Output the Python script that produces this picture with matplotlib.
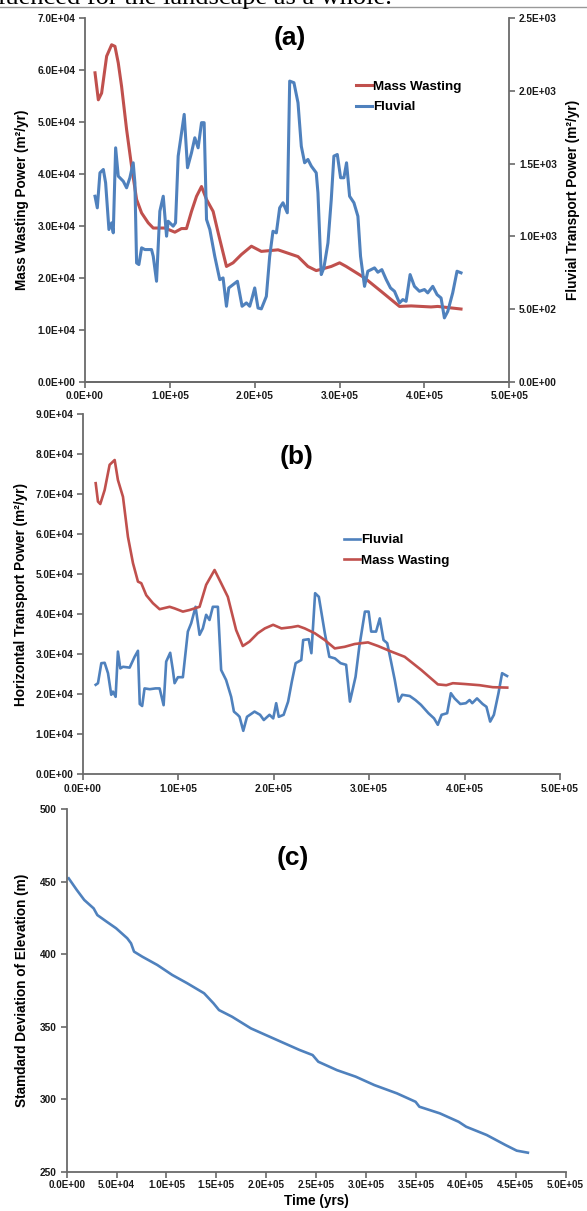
import numpy as np
import matplotlib
matplotlib.use("Agg")
import matplotlib.pyplot as plt
from matplotlib.ticker import FuncFormatter, MultipleLocator

plt.rcParams['font.family'] = ['Liberation Sans', 'DejaVu Sans']
plt.rcParams['font.weight'] = 'bold'
plt.rcParams['axes.labelweight'] = 'bold'

RED = '#c0504d'
BLUE = '#4f81bd'
AXC = '#6a6a6a'

# panel (a): time in kyr, mass wasting in 1e4 m2/yr, fluvial in m2/yr
t_mw_a = [11.8, 15.7, 19.6, 25.5, 31.4, 35.3, 39.2, 43.1, 49.0, 54.9,
          60.8, 66.7, 74.5, 80.4, 94.1, 105.9, 113.7, 119.6, 125.5, 131.4,
          137.3, 143.2, 151.0, 156.9, 166.7, 174.5, 184.3, 196.1, 207.8, 227.5,
          251.0, 262.7, 272.5, 290.2, 300.0, 307.8, 329.4, 349.0, 370.6, 384.3,
          407.8, 415.7, 443.1]
mw_a = [5.95, 5.43, 5.56, 6.27, 6.49, 6.46, 6.14, 5.69, 4.86, 4.15,
        3.51, 3.25, 3.06, 2.96, 2.96, 2.88, 2.95, 2.95, 3.28, 3.57,
        3.76, 3.51, 3.28, 2.87, 2.22, 2.29, 2.45, 2.61, 2.51, 2.54,
        2.41, 2.22, 2.14, 2.22, 2.29, 2.22, 2.00, 1.74, 1.45, 1.46,
        1.44, 1.45, 1.40]

t_fl_a = [11.8, 14.5, 17.6, 21.6, 24.3, 28.2, 31.4, 33.3, 36.1, 39.2,
          45.1, 49.0, 52.9, 56.8, 58.8, 60.8, 63.5, 66.7, 70.6, 78.4,
          80.4, 84.3, 88.2, 92.2, 96.1, 98.0, 103.9, 106.7, 109.8, 116.9,
          120.8, 125.5, 129.4, 133.3, 137.3, 140.4, 143.2, 147.1, 152.9, 158.8,
          162.7, 166.7, 169.4, 174.5, 179.6, 185.1, 190.2, 194.1, 196.9, 200.0,
          203.9, 207.8, 213.7, 217.6, 221.5, 225.5, 229.4, 233.3, 238.4, 241.2,
          246.2, 251.0, 254.9, 258.8, 262.7, 266.7, 272.5, 274.5, 278.4, 281.5,
          286.3, 290.2, 293.3, 297.3, 301.2, 305.1, 308.2, 311.8, 316.9, 321.6,
          324.7, 329.4, 333.3, 341.2, 345.1, 349.8, 355.0, 360.0, 364.7, 370.6,
          374.5, 378.4, 383.1, 388.2, 394.1, 400.0, 403.9, 409.8, 414.9, 419.6,
          423.5, 427.5, 433.3, 438.4, 443.1]
fl_a = [1276, 1196, 1437, 1460, 1368, 1047, 1093, 1024, 1609, 1414,
        1379, 1334, 1403, 1506, 1368, 817, 806, 921, 909, 909,
        863, 691, 1173, 1276, 1001, 1104, 1070, 1093, 1552, 1839,
        1472, 1575, 1678, 1609, 1782, 1782, 1116, 1047, 863, 702,
        714, 519, 645, 668, 691, 519, 542, 519, 576, 645,
        507, 501, 587, 860, 1035, 1024, 1196, 1231, 1162, 2068,
        2057, 1919, 1620, 1506, 1529, 1483, 1437, 1300, 737, 783,
        955, 1253, 1552, 1563, 1403, 1403, 1506, 1276, 1231, 1138,
        863, 656, 760, 783, 753, 771, 702, 645, 622, 542,
        565, 553, 737, 656, 622, 634, 611, 656, 599, 576,
        439, 484, 611, 760, 749]

# panel (b): time in kyr, powers in 1e4 m2/yr
t_mw_b = [13.3, 15.7, 18.1, 22.7, 27.9, 33.2, 36.6, 41.9, 47.1, 52.4,
          57.6, 61.1, 66.3, 73.3, 80.3, 90.8, 96.0, 104.7, 111.7, 122.2,
          129.1, 137.9, 144.8, 151.8, 160.5, 167.5, 174.5, 183.2, 190.6, 199.3,
          208.0, 218.5, 225.4, 232.4, 242.9, 253.4, 263.9, 274.3, 284.8, 298.7,
          309.2, 323.2, 337.2, 354.6, 372.0, 380.8, 387.7, 400.0, 415.7, 429.6,
          444.7]
mw_b = [7.27, 6.81, 6.75, 7.10, 7.73, 7.85, 7.35, 6.93, 5.93, 5.27,
        4.81, 4.77, 4.47, 4.27, 4.12, 4.18, 4.14, 4.06, 4.10, 4.18,
        4.73, 5.10, 4.77, 4.43, 3.60, 3.20, 3.31, 3.52, 3.64, 3.73,
        3.64, 3.67, 3.70, 3.64, 3.52, 3.35, 3.14, 3.18, 3.25, 3.29,
        3.20, 3.06, 2.93, 2.60, 2.24, 2.22, 2.27, 2.25, 2.22, 2.17,
        2.16]

t_fl_b = [13.3, 15.7, 19.2, 22.7, 26.2, 29.6, 31.4, 34.2, 36.6, 39.1,
          41.9, 48.9, 54.1, 57.6, 59.5, 62.0, 64.5, 70.0, 76.0, 80.3,
          84.5, 87.2, 91.4, 94.2, 96.0, 99.5, 104.7, 109.9, 113.4, 118.0,
          122.2, 125.6, 129.1, 132.6, 136.1, 141.4, 144.8, 150.0, 155.3, 158.2,
          162.1, 164.1, 168.0, 171.9, 179.8, 185.6, 189.5, 195.5, 199.4, 202.5,
          205.2, 210.3, 215.0, 218.9, 222.9, 228.8, 230.8, 236.6, 239.4, 243.3,
          247.2, 253.5, 258.2, 264.1, 270.0, 275.8, 279.8, 285.7, 289.6, 295.5,
          299.4, 302.1, 307.2, 311.1, 315.0, 318.9, 322.9, 326.8, 330.8, 334.6,
          342.5, 348.4, 354.2, 362.1, 368.0, 371.9, 375.9, 381.7, 385.6, 389.5,
          395.5, 401.3, 405.2, 408.0, 413.0, 418.9, 422.9, 426.8, 430.7, 435.5,
          439.3, 444.5]
fl_b = [2.23, 2.27, 2.77, 2.78, 2.52, 1.98, 2.06, 1.93, 3.06, 2.64,
        2.68, 2.66, 2.93, 3.08, 1.75, 1.70, 2.14, 2.12, 2.14, 2.14,
        1.72, 2.81, 3.03, 2.60, 2.27, 2.42, 2.42, 3.56, 3.77, 4.18,
        3.48, 3.64, 3.98, 3.85, 4.18, 4.18, 2.60, 2.35, 1.93, 1.56,
        1.48, 1.43, 1.08, 1.43, 1.56, 1.48, 1.35, 1.48, 1.39, 1.77,
        1.43, 1.48, 1.81, 2.31, 2.77, 2.85, 3.35, 3.37, 3.02, 4.52,
        4.43, 3.52, 2.93, 2.89, 2.77, 2.73, 1.81, 2.43, 3.18, 4.06,
        4.06, 3.56, 3.56, 3.89, 3.35, 3.27, 2.81, 2.35, 1.81, 1.98,
        1.95, 1.85, 1.73, 1.52, 1.39, 1.23, 1.48, 1.52, 2.02, 1.89,
        1.75, 1.77, 1.85, 1.77, 1.89, 1.75, 1.68, 1.31, 1.48, 2.02,
        2.52, 2.45]

# panel (c): time in kyr, std dev of elevation in m
t_c = [2.0, 10.1, 17.6, 27.0, 30.7, 40.1, 49.5, 60.7, 64.5, 67.5,
       75.8, 90.8, 105.8, 120.8, 137.7, 147.1, 152.7, 165.8, 184.6, 199.6,
       218.3, 233.4, 246.5, 252.2, 270.9, 289.7, 308.4, 331.0, 349.7, 353.5,
       374.1, 392.9, 400.4, 421.0, 439.8, 451.1, 462.3]
sd_c = [452.2, 444.2, 437.3, 431.5, 426.9, 422.3, 417.8, 410.9, 407.4, 401.7,
        398.2, 392.5, 385.6, 379.9, 373.0, 366.1, 361.4, 356.8, 348.8, 344.2,
        338.5, 333.9, 330.4, 325.8, 320.0, 315.5, 309.7, 304.0, 298.2, 294.8,
        290.2, 284.4, 281.0, 275.3, 268.4, 264.5, 263.1]

sci = FuncFormatter(lambda v, p: '{:.1E}'.format(v))
W, H = 587.0, 1211.0


def px_axes(fig, l, t, r, b):
    # axes from pixel box (left, top, right, bottom)
    return fig.add_axes([l / W, 1 - b / H, (r - l) / W, (b - t) / H])


def style(ax, right=False, size=7.3):
    for s in ['top', 'right']:
        ax.spines[s].set_visible(False)
    if right:
        ax.spines['right'].set_visible(True)
        ax.spines['left'].set_visible(False)
    for s in ax.spines.values():
        s.set_color(AXC)
        s.set_linewidth(1.3)
    ax.tick_params(direction='out', length=4, width=1.2, color=AXC,
                   labelsize=size, labelcolor='#1a1a1a', pad=3)


fig = plt.figure(figsize=(W / 100, H / 100), dpi=100)

# clipped line of document text above the figure
fig.text(-0.003, 1 - 4 / H, 'luenced for the landscape as a whole.',
         family='Liberation Serif', fontsize=19, weight='normal',
         va='baseline', ha='left')
fig.add_artist(plt.Line2D([0, 1], [1 - 6.5 / H, 1 - 6.5 / H], color='#999999', lw=1))

# ---------------- (a)
ax = px_axes(fig, 85, 18.3, 509.3, 381.7)
ax2 = ax.twinx()
l1, = ax.plot(np.array(t_mw_a) * 1e3, np.array(mw_a) * 1e4, color=RED, lw=2.2)
l2, = ax2.plot(np.array(t_fl_a) * 1e3, fl_a, color=BLUE, lw=2.2)
ax.set_xlim(0, 5e5)
ax.set_ylim(0, 7e4)
ax2.set_ylim(0, 2500)
ax.xaxis.set_major_locator(MultipleLocator(1e5))
ax.yaxis.set_major_locator(MultipleLocator(1e4))
ax2.yaxis.set_major_locator(MultipleLocator(500))
for a in (ax, ax2):
    a.xaxis.set_major_formatter(sci)
    a.yaxis.set_major_formatter(sci)
style(ax)
style(ax2, right=True)
ax.set_ylabel('Mass Wasting Power (m²/yr)', fontsize=9.8)
ax.yaxis.set_label_coords(-0.132, 0.5)
ax2.set_ylabel('Fluvial Transport Power (m²/yr)', fontsize=9.8)
ax2.yaxis.set_label_coords(1.134, 0.5)
fig.text(290 / W, 1 - 38 / H, '(a)', fontsize=19, ha='center', va='center')
fig.legend([l1, l2], ['Mass Wasting', 'Fluvial'], loc='center left',
           bbox_to_anchor=(356 / W, 1 - 97 / H), frameon=False, fontsize=9.6,
           handlelength=1.2, handletextpad=0.1, labelspacing=0.6,
           borderpad=0, borderaxespad=0)

# ---------------- (b)
bx = px_axes(fig, 83, 414, 560, 774)
m1, = bx.plot(np.array(t_fl_b) * 1e3, np.array(fl_b) * 1e4, color=BLUE, lw=1.9)
m2, = bx.plot(np.array(t_mw_b) * 1e3, np.array(mw_b) * 1e4, color=RED, lw=1.9)
bx.set_xlim(0, 5e5)
bx.set_ylim(0, 9e4)
bx.xaxis.set_major_locator(MultipleLocator(1e5))
bx.yaxis.set_major_locator(MultipleLocator(1e4))
bx.xaxis.set_major_formatter(sci)
bx.yaxis.set_major_formatter(sci)
style(bx)
bx.set_ylabel('Horizontal Transport Power (m²/yr)', fontsize=9.8)
bx.yaxis.set_label_coords(-0.116, 0.5)
fig.text(297 / W, 1 - 457 / H, '(b)', fontsize=19, ha='center', va='center')
fig.legend([m1, m2], ['Fluvial', 'Mass Wasting'], loc='center left',
           bbox_to_anchor=(344 / W, 1 - 550.5 / H), frameon=False, fontsize=9.6,
           handlelength=1.2, handletextpad=0.1, labelspacing=0.6,
           borderpad=0, borderaxespad=0)

# ---------------- (c)
cx = px_axes(fig, 66.7, 809, 565.5, 1171.7)
cx.plot(np.array(t_c) * 1e3, sd_c, color=BLUE, lw=1.9)
cx.set_xlim(0, 5e5)
cx.set_ylim(250, 500)
cx.xaxis.set_major_locator(MultipleLocator(5e4))
cx.yaxis.set_major_locator(MultipleLocator(50))
cx.xaxis.set_major_formatter(sci)
style(cx)
cx.tick_params(axis='x', labelsize=7.1, pad=2)
cx.set_ylabel('Stamdard Deviation of Elevation (m)', fontsize=9.8)
cx.yaxis.set_label_coords(-0.0746, 0.5)
cx.set_xlabel('Time (yrs)', fontsize=9.8, va='center')
cx.xaxis.set_label_coords(0.5, -0.08)
fig.text(293 / W, 1 - 858 / H, '(c)', fontsize=19, ha='center', va='center')

fig.savefig('out.png', dpi=100)
